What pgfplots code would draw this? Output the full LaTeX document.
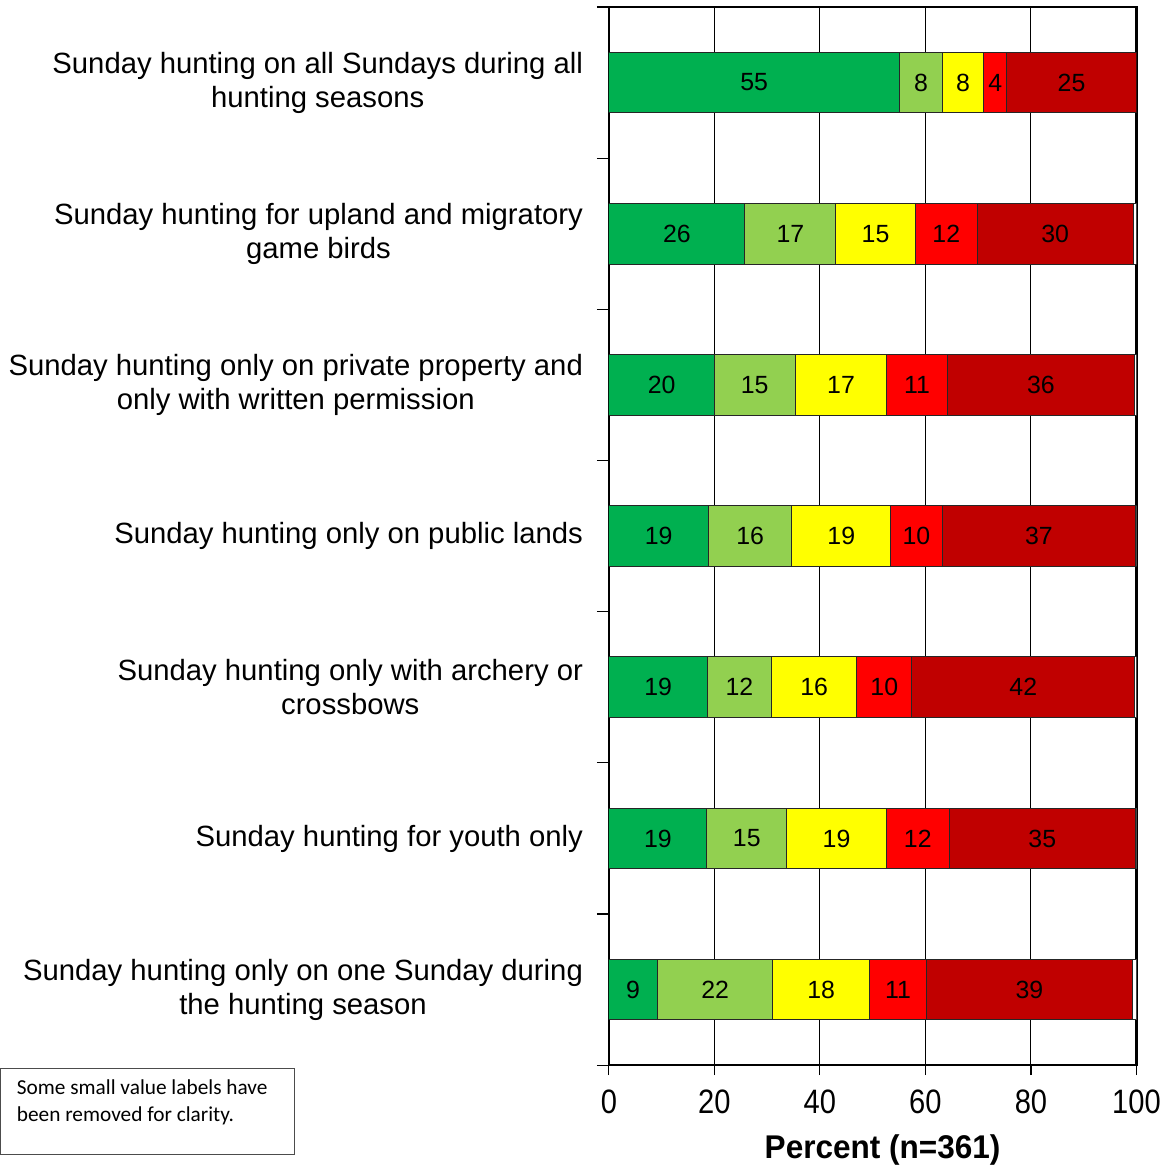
\documentclass[border=0pt]{standalone}
\usepackage{fontspec}
\setmainfont{Liberation Sans}
\newfontfamily\notefont{Carlito}
\usepackage{pgfplots}
\pgfplotsset{compat=1.18}

\definecolor{dgreen}{HTML}{00B050}
\definecolor{lgreen}{HTML}{92D050}
\definecolor{ylw}{HTML}{FFFF00}
\definecolor{rd}{HTML}{FF0000}
\definecolor{drd}{HTML}{C00000}

\begin{document}
\begin{tikzpicture}
\begin{axis}[
    xbar stacked,
    scale only axis,
    width=265pt, height=531.5pt,
    xmin=0, xmax=100,
    ymin=-0.5, ymax=6.5,
    y dir=reverse,
    bar width=30.5pt,
    axis line style={line width=1.2pt},
    xtick={0,20,...,100},
    xmajorgrids,
    grid style={black, line width=0.5pt},
    tick pos=left,
    tick align=outside,
    major tick length=5pt,
    minor tick length=6pt,
    tick style={black, line width=0.6pt},
    ytick={0,...,6},
    major y tick style={draw=none},
    minor ytick={-0.5,0.5,...,6.5},
    yticklabels={
        {Sunday hunting on all Sundays during all\\hunting seasons},
        {Sunday hunting for upland and migratory\\game birds},
        {Sunday hunting only on private property and\\only with written permission},
        {Sunday hunting only on public lands},
        {Sunday hunting only with archery or\\crossbows},
        {Sunday hunting for youth only},
        {Sunday hunting only on one Sunday during\\the hunting season}},
    yticklabel style={align=center, xshift=-4.5pt, font=\fontsize{14.7}{17}\selectfont},
    /pgf/number format/assume math mode=true,
    xticklabel={\scalebox{0.86}[1]{\pgfmathprintnumber{\tick}}},
    xticklabel style={font=\fontsize{17}{20}\selectfont, yshift=-4pt},
    xlabel={\scalebox{0.96}[1]{Percent (n=361)}},
    xlabel style={font=\fontsize{16.5}{19}\selectfont\bfseries, xshift=5pt, yshift=-3.5pt},
    every axis plot/.append style={draw=black!85, line width=0.5pt},
    every node near coord/.append style={font=\fontsize{12.5}{14}\selectfont, text=black},
]
\addplot[fill=dgreen, nodes near coords={\pgfmathprintnumber[fixed,precision=0]{\pgfplotspointmeta}}]
    coordinates {(55.1,0) (25.8,1) (20.0,2) (18.9,3) (18.7,4) (18.6,5) (9.2,6)};
\addplot[fill=lgreen, nodes near coords={\pgfmathprintnumber[fixed,precision=0]{\pgfplotspointmeta}}]
    coordinates {(8.1,0) (17.2,1) (15.3,2) (15.8,3) (12.1,4) (15.1,5) (21.9,6)};
\addplot[fill=ylw, nodes near coords={\pgfmathprintnumber[fixed,precision=0]{\pgfplotspointmeta}}]
    coordinates {(7.9,0) (15.1,1) (17.4,2) (18.7,3) (16.2,4) (18.9,5) (18.3,6)};
\addplot[fill=rd, nodes near coords={\pgfmathprintnumber[fixed,precision=0]{\pgfplotspointmeta}}]
    coordinates {(4.3,0) (11.7,1) (11.4,2) (9.8,3) (10.4,4) (11.9,5) (10.8,6)};
\addplot[fill=drd, nodes near coords={\pgfmathprintnumber[fixed,precision=0]{\pgfplotspointmeta}}]
    coordinates {(24.6,0) (29.6,1) (35.6,2) (36.6,3) (42.3,4) (35.3,5) (39.0,6)};
\addplot[fill=white]
    coordinates {(0,0) (0.6,1) (0.3,2) (0.2,3) (0.3,4) (0.2,5) (0.8,6)};
\end{axis}
\path ([yshift=3.5pt]current axis.north west);
\draw[line width=0.6pt, black!70] ([xshift=-158pt, yshift=-1.5pt]current axis.south west)
    rectangle ++(-147.5pt,-43.5pt);
\node[anchor=north west, inner sep=0pt, align=left,
      font=\notefont\fontsize{10.7}{13.5}\selectfont]
    at ([xshift=-297.5pt, yshift=-7pt]current axis.south west)
    {Some small value labels have\\been removed for clarity.};
\end{tikzpicture}
\end{document}
